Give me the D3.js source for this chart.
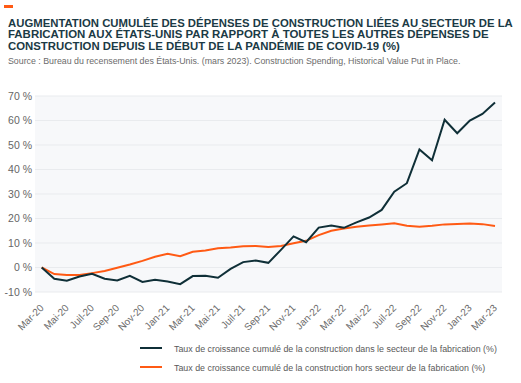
<!DOCTYPE html>
<html>
<head>
<meta charset="utf-8">
<script src="https://cdn.jsdelivr.net/npm/d3@7"></script>
<style>
  body { margin: 0; background: #fff; }
  text { font-family: "Liberation Sans", Arial, sans-serif; }
</style>
</head>
<body>
<div id="chart"></div>
<script>
// months, Mar-20 .. Mar-23
var months = ["Mar-20","Avr-20","Mai-20","Juin-20","Juil-20","Août-20","Sep-20","Oct-20","Nov-20","Déc-20",
              "Jan-21","Fév-21","Mar-21","Avr-21","Mai-21","Juin-21","Juil-21","Août-21","Sep-21","Oct-21",
              "Nov-21","Déc-21","Jan-22","Fév-22","Mar-22","Avr-22","Mai-22","Juin-22","Juil-22","Août-22",
              "Sep-22","Oct-22","Nov-22","Déc-22","Jan-23","Fév-23","Mar-23"];

// cumulative growth, manufacturing (%)
var fabrication = [0, -4.6, -5.4, -3.7, -2.6, -4.6, -5.3, -3.4, -5.9, -5.0,
                   -5.7, -6.8, -3.5, -3.4, -4.2, -0.6, 2.2, 2.9, 1.9, 7.2,
                   12.7, 10.3, 16.3, 17.1, 16.2, 18.4, 20.4, 23.5, 30.9, 34.4,
                   48.2, 43.8, 60.3, 54.8, 60.0, 62.7, 67.3];

// cumulative growth, excluding manufacturing (%)
var horsFabrication = [0, -2.7, -3.1, -3.1, -2.3, -1.4, -0.1, 1.2, 2.7, 4.4,
                       5.6, 4.6, 6.4, 6.9, 7.9, 8.2, 8.7, 8.8, 8.4, 8.8,
                       9.9, 10.9, 13.2, 15.0, 15.9, 16.6, 17.1, 17.6, 18.1, 17.0,
                       16.6, 17.0, 17.6, 17.8, 18.0, 17.7, 16.9];

var yTicks = [-10, 0, 10, 20, 30, 40, 50, 60, 70];

var titleLines = ["AUGMENTATION CUMULÉE DES DÉPENSES DE CONSTRUCTION LIÉES AU SECTEUR DE LA",
                  "FABRICATION AUX ÉTATS-UNIS PAR RAPPORT À TOUTES LES AUTRES DÉPENSES DE",
                  "CONSTRUCTION DEPUIS LE DÉBUT DE LA PANDÉMIE DE COVID-19 (%)"];
var sourceText = "Source : Bureau du recensement des États-Unis. (mars 2023). Construction Spending, Historical Value Put in Place.";
var legendLabels = ["Taux de croissance cumulé de la construction dans le secteur de la fabrication (%)",
                    "Taux de croissance cumulé de la construction hors secteur de la fabrication (%)"];

var W = 521, H = 383;
var colDark = "#0f2f37", colOrange = "#ff5a14";

var svg = d3.select("#chart").append("svg")
    .attr("width", W)
    .attr("height", H);

// squeeze a text horizontally so it spans w pixels from (x0, y0)
function squeeze(sel, x0, y0, w) {
    sel.each(function (d, i) {
        var t = d3.select(this);
        var len = this.getComputedTextLength();
        var xx = typeof x0 == "function" ? x0(d, i) : x0;
        var yy = typeof y0 == "function" ? y0(d, i) : y0;
        var ww = typeof w == "function" ? w(d, i) : w;
        t.attr("transform", "translate(" + xx + "," + yy + ") scale(" + (ww / len) + ",1)");
    });
}

// little orange mark top left
svg.append("rect")
    .attr("x", 4).attr("y", 5)
    .attr("width", 9).attr("height", 3)
    .attr("fill", colOrange);

// title
var titleW = [505, 481, 392];
var title = svg.selectAll(".title")
    .data(titleLines)
    .enter().append("text")
    .attr("class", "title")
    .style("font-size", "11.6px")
    .style("font-weight", "bold")
    .style("fill", "#1b3a45")
    .text(function (d) { return d; });
squeeze(title, 8, function (d, i) { return 26.5 + i * 11.7; }, function (d, i) { return titleW[i]; });

var source = svg.append("text")
    .style("font-size", "9.3px")
    .style("fill", "#6b6b6b")
    .text(sourceText);
squeeze(source, 8, 63.5, 453);

// plot area
var plotLeft = 35, plotRight = 502;
var x = d3.scalePoint()
    .domain(months)
    .range([41.7, 495]);
var y = d3.scaleLinear()
    .domain([-10, 70])
    .range([292, 96]);

svg.append("rect")
    .attr("x", plotLeft)
    .attr("y", y(70))
    .attr("width", plotRight - plotLeft)
    .attr("height", y(-10) - y(70))
    .attr("fill", "#f7f8fa");

svg.selectAll(".grid")
    .data(yTicks)
    .enter().append("line")
    .attr("class", "grid")
    .attr("x1", plotLeft).attr("x2", plotRight)
    .attr("y1", function (d) { return y(d); })
    .attr("y2", function (d) { return y(d); })
    .attr("stroke", "#e9ebee")
    .attr("stroke-width", 1);

// y axis labels
var yAxis = svg.append("g")
    .attr("transform", "translate(" + plotLeft + ",0)")
    .call(d3.axisLeft(y).tickValues(yTicks).tickSize(0).tickPadding(3)
        .tickFormat(function (d) { return d + " %"; }));
yAxis.select(".domain").remove();
yAxis.selectAll("text")
    .style("font-size", "10.5px")
    .style("fill", "#666")
    .style("font-family", "'Liberation Sans', Arial, sans-serif");

// x axis labels, one every two months
var xAxis = svg.append("g")
    .attr("transform", "translate(0," + 305 + ")")
    .call(d3.axisBottom(x)
        .tickValues(months.filter(function (d, i) { return i % 2 == 0; }))
        .tickSize(0));
xAxis.select(".domain").remove();
xAxis.selectAll("text")
    .attr("text-anchor", "end")
    .attr("transform", "rotate(-45)")
    .attr("dx", "-0.1em")
    .attr("dy", "0.4em")
    .attr("y", 0)
    .style("font-size", "10px")
    .style("fill", "#6b6b6b")
    .style("font-family", "'Liberation Sans', Arial, sans-serif");

// lines
var line = d3.line()
    .x(function (d, i) { return x(months[i]); })
    .y(function (d) { return y(d); });

svg.append("path")
    .datum(horsFabrication)
    .attr("d", line)
    .attr("fill", "none")
    .attr("stroke", colOrange)
    .attr("stroke-width", 2);

svg.append("path")
    .datum(fabrication)
    .attr("d", line)
    .attr("fill", "none")
    .attr("stroke", colDark)
    .attr("stroke-width", 2);

// legend
var legendColors = [colDark, colOrange];
var legendW = [323, 311];
var legend = svg.selectAll(".legend")
    .data(legendLabels)
    .enter().append("g")
    .attr("class", "legend")
    .attr("transform", function (d, i) { return "translate(140," + (348 + i * 19) + ")"; });

legend.append("line")
    .attr("x1", 0).attr("x2", 22)
    .attr("stroke", function (d, i) { return legendColors[i]; })
    .attr("stroke-width", 2);

var legendText = legend.append("text")
    .style("font-size", "9.5px")
    .style("fill", "#595959")
    .text(function (d) { return d; });
squeeze(legendText, 34, 3.5, function (d, i) { return legendW[i]; });
</script>
</body>
</html>
